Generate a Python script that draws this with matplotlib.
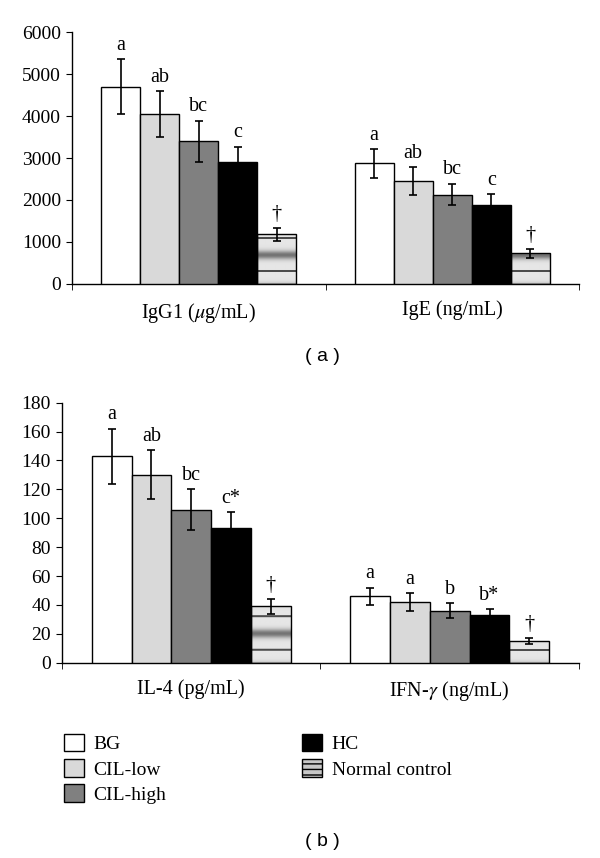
import numpy as np
import matplotlib
matplotlib.use("Agg")
import matplotlib.pyplot as plt
from matplotlib.patches import Patch

plt.rcParams["font.family"] = ["Liberation Serif", "DejaVu Serif"]
plt.rcParams["mathtext.fontset"] = "stix"

groups = ["BG", "CIL-low", "CIL-high", "HC", "Normal control"]
colors = ["white", "#d9d9d9", "#808080", "black", "#c8c8c8"]

# panel a
cats_a = ["IgG1 ($\\mu$g/mL)", "IgE (ng/mL)"]
igg1 = [4700, 4050, 3400, 2900, 1180]
igg1_err = [650, 550, 490, 370, 160]
ige = [2870, 2460, 2130, 1890, 730]
ige_err = [350, 330, 260, 250, 110]
lab_igg1 = ["a", "ab", "bc", "c", "†"]
lab_ige = ["a", "ab", "bc", "c", "†"]

# panel b
cats_b = ["IL-4 (pg/mL)", "IFN-$\\gamma$ (ng/mL)"]
il4 = [143, 130, 106, 93, 39]
il4_err = [19, 17, 14, 11, 5]
ifn = [46, 42, 36, 33, 15]
ifn_err = [6, 6, 5, 4, 2]
lab_il4 = ["a", "ab", "bc", "c*", "†"]
lab_ifn = ["a", "a", "b", "b*", "†"]

W = 0.154


def striped_fill(ax, x0, w, h):
    # gray banded texture like the original "normal control" fill
    fig = ax.figure
    fig.canvas.draw()
    p0 = ax.transData.transform((x0, 0))
    p1 = ax.transData.transform((x0, h))
    n = max(int(round(p1[1] - p0[1])), 2)
    t = (np.arange(n) - 12) / 33.0 % 1.0
    v = 0.9 - 0.45 * np.exp(-((t - 0.5) / 0.13) ** 2)
    v = np.where((t < 0.05) | (t > 0.97), 0.3, v)
    img = np.tile(v[::-1, None], (1, 4))
    ax.imshow(img, cmap="gray", vmin=0, vmax=1, aspect="auto",
              extent=(x0, x0 + w, 0, h), zorder=2, interpolation="bilinear")


def draw_panel(ax, cats, vals, errs, labs, ymax, ystep):
    x = np.arange(len(cats))
    for c in range(len(cats)):
        for i in range(len(groups)):
            xi = x[c] + (i - 2) * W
            v = vals[c][i]
            e = errs[c][i]
            fc = colors[i] if i < 4 else "none"
            ax.bar(xi, v, W, color=fc, edgecolor="black", linewidth=1.0, zorder=3)
            ax.errorbar(xi, v, yerr=e, fmt="none", ecolor="black",
                        elinewidth=1.2, capsize=3, capthick=1.2, zorder=4)
            ax.annotate(labs[c][i], (xi, v + e), xytext=(0, 3),
                        textcoords="offset points", ha="center", va="bottom",
                        fontsize=14.5)
    ax.set_xlim(-0.5, 1.5)
    ax.set_ylim(0, ymax)
    ax.set_yticks(np.arange(0, ymax + 1, ystep))
    ax.set_xticks(x)
    ax.set_xticklabels(cats, fontsize=14.5)
    ax.set_xticks([-0.5, 0.5, 1.5], minor=True)
    ax.tick_params(axis="x", which="major", length=0, pad=12)
    ax.tick_params(axis="x", which="minor", length=4, direction="out")
    ax.tick_params(axis="y", labelsize=14, length=4, pad=4)
    for s in ["top", "right"]:
        ax.spines[s].set_visible(False)
    ax.spines["left"].set_linewidth(1.0)
    ax.spines["bottom"].set_linewidth(1.0)
    # texture for normal control bars
    for c in range(len(cats)):
        xi = x[c] + 2 * W - W / 2
        striped_fill(ax, xi, W, vals[c][4])
    ax.set_xlim(-0.5, 1.5)
    ax.set_ylim(0, ymax)


fig = plt.figure(figsize=(6, 8.58), dpi=100)
ax_a = fig.add_axes([0.12, 0.669, 0.845, 0.2937])
ax_b = fig.add_axes([0.1033, 0.2276, 0.8617, 0.3031])

draw_panel(ax_a, cats_a, [igg1, ige], [igg1_err, ige_err], [lab_igg1, lab_ige], 6000, 1000)
draw_panel(ax_b, cats_b, [il4, ifn], [il4_err, ifn_err], [lab_il4, lab_ifn], 180, 20)

fig.text(0.537, 1 - 357 / 858, "( a )", ha="center", va="center",
         fontsize=14, family="Liberation Sans")
fig.text(0.537, 1 - 842 / 858, "( b )", ha="center", va="center",
         fontsize=14, family="Liberation Sans")

handles = [Patch(facecolor=colors[i], edgecolor="black", linewidth=1.0) for i in range(4)]
handles.append(Patch(facecolor="#c8c8c8", edgecolor="black", linewidth=1.0, hatch="---"))
fig.legend(handles, groups, ncol=2, loc="upper left",
           bbox_to_anchor=(0.107, 1 - 734 / 858), frameon=False, fontsize=14,
           handlelength=1.0, handleheight=1.0, handletextpad=0.5,
           labelspacing=0.3, columnspacing=7.0, borderaxespad=0, borderpad=0)

fig.savefig("out.png", dpi=100)
